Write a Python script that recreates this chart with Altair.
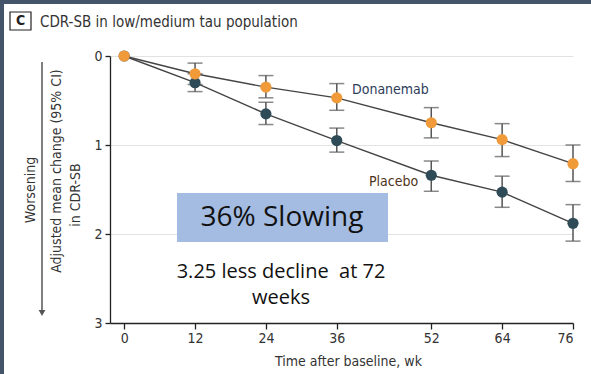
import altair as alt
import pandas as pd

weeks = [0, 12, 24, 36, 52, 64, 76]
dona_mean = [0.0, 0.20, 0.35, 0.47, 0.75, 0.94, 1.21]
dona_lo = [0.0, 0.08, 0.22, 0.31, 0.58, 0.76, 1.00]
dona_hi = [0.0, 0.32, 0.47, 0.61, 0.92, 1.13, 1.41]
plac_mean = [0.0, 0.30, 0.65, 0.95, 1.34, 1.53, 1.88]
plac_lo = [0.0, 0.20, 0.52, 0.81, 1.18, 1.35, 1.67]
plac_hi = [0.0, 0.40, 0.77, 1.08, 1.52, 1.70, 2.08]
y_ticks = [0, 1, 2, 3]

rows = []
for i, w in enumerate(weeks):
    rows.append({"week": w, "group": "Placebo", "mean": plac_mean[i], "lo": plac_lo[i], "hi": plac_hi[i]})
for i, w in enumerate(weeks):
    rows.append({"week": w, "group": "Donanemab", "mean": dona_mean[i], "lo": dona_lo[i], "hi": dona_hi[i]})
df = pd.DataFrame(rows)
err = df[df["week"] > 0]

FONT = "Liberation Sans Narrow, DejaVu Sans Condensed, Roboto, sans-serif"
W, H = 463, 267

xs = alt.Scale(domain=[-2.4, 76], nice=False, zero=False)
ys = alt.Scale(domain=[0, 3], reverse=True, nice=False)

x_enc = alt.X("week:Q", scale=xs, axis=alt.Axis(values=weeks, grid=False, tickSize=6, format="d",
               domainColor="#222", tickColor="#222", domainWidth=1.3, tickWidth=1.3,
               labelFont=FONT, labelFontSize=14, labelColor="#333", labelPadding=2,
               title="Time after baseline, wk", titleFont=FONT, titleFontSize=14,
               titleFontWeight="normal", titleColor="#333", titlePadding=9, titleX=238))
y_axis = alt.Axis(values=y_ticks, grid=True, gridColor="#e2e2e2", tickSize=5, format="d",
                  domainColor="#222", tickColor="#222", domainWidth=1.3, tickWidth=1.3,
                  labelFont=FONT, labelFontSize=14, labelColor="#333", labelPadding=3,
                  title=None)

base = alt.Chart(df)

lines = base.mark_line(color="#444", strokeWidth=1.4).encode(
    x=x_enc, y=alt.Y("mean:Q", scale=ys, axis=y_axis), detail="group:N")

ebars = alt.Chart(err).mark_rule(color="#555", strokeWidth=1.5).encode(
    x=alt.X("week:Q", scale=xs), y=alt.Y("lo:Q", scale=ys), y2="hi:Q")
cap_lo = alt.Chart(err).mark_tick(color="#555", thickness=1.5, size=15, orient="horizontal").encode(
    x=alt.X("week:Q", scale=xs), y=alt.Y("lo:Q", scale=ys))
cap_hi = alt.Chart(err).mark_tick(color="#555", thickness=1.5, size=15, orient="horizontal").encode(
    x=alt.X("week:Q", scale=xs), y=alt.Y("hi:Q", scale=ys))

points = base.mark_circle(size=125, opacity=1).encode(
    x=alt.X("week:Q", scale=xs), y=alt.Y("mean:Q", scale=ys),
    color=alt.Color("group:N", scale=alt.Scale(domain=["Placebo", "Donanemab"],
                                               range=["#2f4b57", "#f09a3a"]), legend=None),
    order=alt.Order("group:N", sort="descending"))

one = pd.DataFrame({"a": [0]})
c1 = alt.Chart(one)

lab_dona = c1.mark_text(text="Donanemab", font=FONT, fontSize=14, fontWeight=500,
                        color="#2d3c5a", align="left", baseline="middle").encode(
    x=alt.value(242), y=alt.value(34))
lab_plac = c1.mark_text(text="Placebo", font=FONT, fontSize=14, fontWeight=500,
                        color="#4e3420", align="left", baseline="middle").encode(
    x=alt.value(259), y=alt.value(126))

box = c1.mark_rect(color="#a4bce2").encode(
    x=alt.value(67), x2=alt.value(278), y=alt.value(137), y2=alt.value(186))
box_txt = c1.mark_text(text="36% Slowing", font="Open Sans", fontSize=28,
                       color="#111", align="center", baseline="middle").encode(
    x=alt.value(172), y=alt.value(162))
dec1 = c1.mark_text(text="3.25 less decline\u00a0 at 72", font="Open Sans", fontSize=20,
                    color="#111", align="center", baseline="middle").encode(
    x=alt.value(171), y=alt.value(216))
dec2 = c1.mark_text(text="weeks", font="Open Sans", fontSize=20,
                    color="#111", align="center", baseline="middle").encode(
    x=alt.value(171), y=alt.value(242))

# y-axis titles
yt1 = c1.mark_text(text="Worsening", font=FONT, fontSize=14, angle=270, color="#333",
                   align="center", baseline="middle").encode(x=alt.value(-79), y=alt.value(134))
yt2 = c1.mark_text(text="Adjusted mean change (95% CI)", font=FONT, fontSize=14, angle=270,
                   color="#333", align="center", baseline="middle").encode(x=alt.value(-53), y=alt.value(115))
yt3 = c1.mark_text(text="in CDR-SB", font=FONT, fontSize=14, angle=270, color="#333",
                   align="center", baseline="middle").encode(x=alt.value(-34), y=alt.value(139))
arrow = c1.mark_rule(color="#555", strokeWidth=1.5).encode(
    x=alt.value(-68), y=alt.value(6), y2=alt.value(255))
arrow_head = c1.mark_point(shape="triangle-down", filled=True, size=45, color="#555", opacity=1).encode(
    x=alt.value(-68), y=alt.value(257))

# panel title
title_box = c1.mark_rect(fill="white", stroke="#222", strokeWidth=1.2).encode(
    x=alt.value(-100), x2=alt.value(-79), y=alt.value(-44), y2=alt.value(-26))
title_c = c1.mark_text(text="C", font=FONT, fontSize=14, fontWeight="bold", color="#222",
                       align="center", baseline="middle").encode(x=alt.value(-89.5), y=alt.value(-35))
title_t = c1.mark_text(text="CDR-SB in low/medium tau population", font=FONT, fontSize=15,
                       color="#333", align="left", baseline="middle").encode(x=alt.value(-70), y=alt.value(-34))

# slide frame bands
band_top = c1.mark_rule(color="#44546a", strokeWidth=4).encode(
    x=alt.value(-110), x2=alt.value(481), y=alt.value(-54))
band_left = c1.mark_rule(color="#44546a", strokeWidth=4).encode(
    x=alt.value(-108), y=alt.value(-56), y2=alt.value(330))

chart = alt.layer(
    lines, ebars, cap_lo, cap_hi, points,
    lab_dona, lab_plac, box, box_txt, dec1, dec2,
    yt1, yt2, yt3, arrow, arrow_head,
    title_box, title_c, title_t, band_top, band_left
).properties(
    width=W, height=H, autosize="none",
    padding={"left": 110, "top": 56, "right": 18, "bottom": 51},
    background="white"
).configure_view(stroke=None)

chart.save("out.html", embed_options={"renderer": "svg", "actions": False})
